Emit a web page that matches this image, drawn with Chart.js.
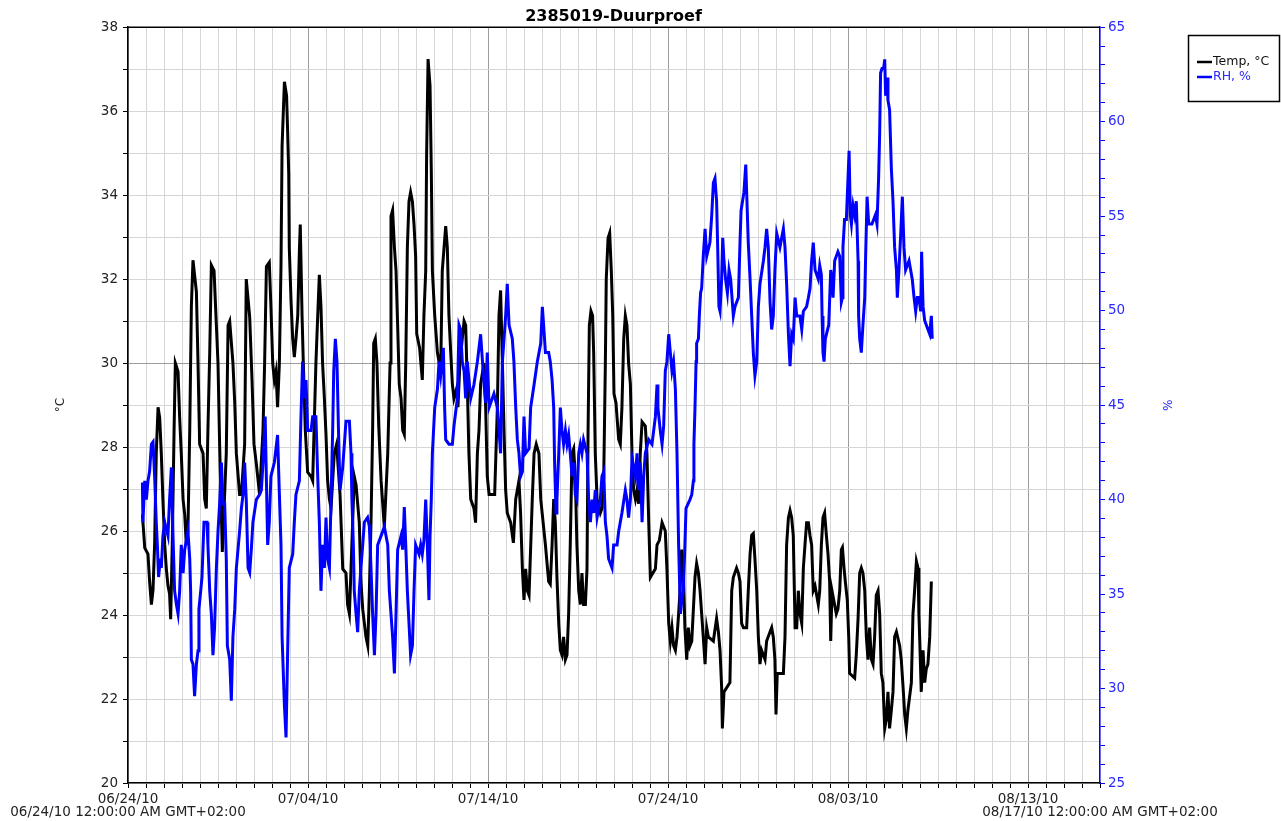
<!DOCTYPE html>
<html>
<head>
<meta charset="utf-8">
<title>2385019-Duurproef</title>
<script src="https://cdn.jsdelivr.net/npm/chart.js@4.4.0/dist/chart.umd.min.js"></script>
<style>
  html, body { margin: 0; padding: 0; background: #fff; overflow: hidden; }
  #wrap { width: 1281px; height: 821px; }
</style>
</head>
<body>
<div id="wrap"><canvas id="c" width="1281" height="821"></canvas></div>
<script>
// ---- data ----
const chartTitle = '2385019-Duurproef';
const startStamp = '06/24/10 12:00:00 AM GMT+02:00';
const endStamp = '08/17/10 12:00:00 AM GMT+02:00';
// date labels, one every 10 days counted from 06/24/10 (day 0)
const dateTickLabels = ['06/24/10', '07/04/10', '07/14/10', '07/24/10', '08/03/10', '08/13/10'];
const seriesNames = ['Temp, °C', 'RH, %'];

// temperature readings: [day since 06/24/10 00:00, °C]
const tempSeries = [
  [0.80,26.4],[0.93,25.6],[1.11,25.45],[1.2,24.8],[1.3,24.25],[1.39,24.6],[1.48,25.7],[1.57,27.85],[1.67,28.95],[1.76,28.7],
  [1.85,27.85],[1.94,26.75],[2.04,25.67],[2.13,25.1],[2.22,24.7],[2.31,24.5],[2.37,23.9],[2.46,25.7],[2.56,28.4],[2.63,30.0],
  [2.78,29.8],[2.87,28.7],[2.96,27.85],[3.06,26.75],[3.15,26.4],[3.24,25.67],[3.33,26.0],[3.43,28.4],[3.52,31.35],[3.61,32.45],
  [3.8,31.7],[3.89,30.0],[3.98,28.07],[4.17,27.85],[4.26,26.76],[4.35,26.54],[4.44,28.4],[4.54,30.25],[4.63,32.33],[4.78,32.2],
  [4.91,30.9],[5.0,30.0],[5.09,28.07],[5.24,25.5],[5.46,27.85],[5.56,30.9],[5.65,31.0],[5.83,30.0],[5.93,29.05],[6.02,27.85],
  [6.2,26.87],[6.3,26.87],[6.48,28.07],[6.57,32.0],[6.76,31.1],[6.89,29.6],[7.0,28.07],[7.13,27.6],[7.31,26.87],[7.5,28.4],
  [7.59,30.0],[7.69,32.3],[7.85,32.4],[7.94,31.35],[8.04,30.0],[8.13,29.6],[8.22,29.8],[8.31,28.95],[8.41,30.0],[8.5,32.33],
  [8.56,35.17],[8.69,36.7],[8.81,36.37],[8.87,35.5],[8.93,34.5],[8.96,32.76],[9.06,31.45],[9.15,30.58],[9.24,30.14],[9.33,30.58],
  [9.43,31.13],[9.52,32.65],[9.57,33.3],[9.67,31.13],[9.74,30.0],[9.85,28.4],[9.98,27.4],[10.17,27.3],[10.26,27.2],[10.44,30.0],
  [10.54,31.13],[10.63,32.1],[10.72,31.35],[10.81,30.0],[10.91,29.16],[11.0,28.3],[11.09,27.2],[11.19,26.76],[11.28,26.54],[11.46,27.85],
  [11.59,28.07],[11.78,26.87],[11.93,25.1],[12.11,25.0],[12.2,24.25],[12.3,24.03],[12.39,25.1],[12.57,27.3],[12.67,27.1],[12.85,26.2],
  [12.94,24.8],[13.04,24.14],[13.22,23.48],[13.32,23.27],[13.41,24.58],[13.5,26.2],[13.59,28.4],[13.65,30.47],[13.74,30.58],[13.83,30.0],
  [13.93,28.5],[14.06,27.2],[14.24,26.1],[14.43,27.85],[14.56,30.0],[14.61,33.5],[14.7,33.64],[14.8,32.76],[14.89,32.2],[14.98,30.9],
  [15.07,29.5],[15.17,29.16],[15.26,28.4],[15.35,28.3],[15.43,30.0],[15.52,32.76],[15.61,33.85],[15.7,34.07],[15.8,33.85],[15.89,33.3],
  [15.98,32.55],[16.04,30.7],[16.2,30.36],[16.35,29.6],[16.44,31.13],[16.54,32.2],[16.59,34.95],[16.67,37.24],[16.78,36.6],[16.85,34.6],
  [16.91,32.2],[17.04,31.13],[17.19,30.25],[17.37,29.8],[17.46,32.2],[17.65,33.26],[17.74,32.76],[17.83,31.13],[17.93,30.25],[18.02,29.5],
  [18.11,29.16],[18.26,29.4],[18.33,28.95],[18.44,30.0],[18.57,30.58],[18.67,31.0],[18.76,30.9],[18.85,29.5],[18.94,27.85],[19.04,26.76],
  [19.22,26.54],[19.31,26.2],[19.41,27.85],[19.5,28.4],[19.59,29.5],[19.78,30.0],[19.87,28.95],[19.96,27.3],[20.06,26.87],[20.37,26.87],
  [20.52,28.95],[20.61,31.13],[20.7,31.73],[20.8,30.0],[20.89,28.4],[20.98,26.98],[21.07,26.43],[21.26,26.2],[21.41,25.72],[21.54,26.76],
  [21.72,27.2],[21.81,26.43],[21.91,25.1],[22.0,24.36],[22.09,25.1],[22.19,24.58],[22.28,24.47],[22.46,26.76],[22.56,27.85],[22.68,28.07],
  [22.83,27.85],[22.93,26.76],[23.19,25.67],[23.37,24.8],[23.46,24.74],[23.56,25.67],[23.65,26.76],[23.74,26.2],[23.83,24.9],[23.93,23.8],
  [24.02,23.16],[24.11,23.05],[24.2,23.48],[24.3,22.94],[24.39,23.05],[24.48,24.03],[24.57,25.67],[24.67,27.85],[24.76,27.96],[24.85,27.3],
  [24.94,25.67],[25.04,24.58],[25.13,24.25],[25.22,25.0],[25.31,24.25],[25.41,24.25],[25.5,25.1],[25.56,28.4],[25.63,30.9],[25.72,31.24],
  [25.81,31.13],[25.87,30.25],[25.96,27.85],[26.06,26.76],[26.24,26.43],[26.33,26.54],[26.43,27.3],[26.52,30.0],[26.57,32.0],[26.67,32.98],
  [26.76,33.1],[26.85,32.2],[26.93,31.13],[27.0,29.27],[27.11,29.05],[27.26,28.18],[27.35,28.07],[27.44,28.94],[27.54,30.58],[27.63,31.13],
  [27.72,30.9],[27.81,30.0],[27.91,29.5],[28.0,27.85],[28.09,26.98],[28.19,26.76],[28.28,26.98],[28.37,26.65],[28.46,27.85],[28.56,28.6],
  [28.74,28.5],[28.83,27.85],[28.93,26.2],[29.02,24.9],[29.3,25.1],[29.39,25.67],[29.52,25.78],[29.67,26.2],[29.85,26.0],[29.94,25.1],
  [30.04,23.8],[30.13,23.37],[30.22,23.7],[30.31,23.27],[30.41,23.16],[30.5,23.48],[30.59,24.03],[30.67,24.58],[30.76,25.56],[30.85,25.1],
  [30.94,23.7],[31.04,22.94],[31.13,23.7],[31.22,23.27],[31.32,23.38],[31.41,24.14],[31.5,24.9],[31.59,25.23],[31.69,25.0],[31.78,24.58],
  [31.87,24.03],[31.96,23.48],[32.06,22.83],[32.15,23.7],[32.24,23.48],[32.52,23.38],[32.7,23.92],[32.8,23.6],[32.89,23.16],[32.98,22.28],
  [33.02,21.3],[33.11,22.17],[33.44,22.39],[33.54,24.58],[33.63,24.9],[33.81,25.12],[33.91,25.0],[34.0,24.8],[34.09,23.8],[34.19,23.7],
  [34.37,23.7],[34.46,24.58],[34.56,25.45],[34.65,25.9],[34.74,25.94],[34.83,25.34],[34.93,24.58],[35.02,23.48],[35.11,22.83],[35.2,23.16],
  [35.39,22.94],[35.48,23.38],[35.67,23.6],[35.76,23.7],[35.85,23.48],[35.94,22.94],[36.0,21.63],[36.07,22.61],[36.41,22.61],[36.5,23.48],
  [36.59,25.67],[36.69,26.32],[36.78,26.49],[36.87,26.32],[36.96,25.89],[37.06,23.7],[37.15,23.7],[37.24,24.58],[37.33,24.03],[37.43,23.8],
  [37.52,25.12],[37.61,25.67],[37.7,26.2],[37.8,26.2],[37.89,25.89],[37.98,25.67],[38.07,24.58],[38.17,24.69],[38.35,24.25],[38.43,24.58],
  [38.52,25.67],[38.61,26.32],[38.7,26.43],[38.8,25.89],[38.89,25.45],[38.98,24.8],[39.04,23.38],[39.11,24.58],[39.35,24.03],[39.44,24.14],
  [39.54,24.58],[39.63,25.56],[39.69,25.61],[39.78,25.12],[39.85,24.8],[39.96,24.36],[40.04,23.48],[40.09,22.61],[40.37,22.5],[40.46,23.05],
  [40.56,23.92],[40.65,25.0],[40.74,25.12],[40.83,25.0],[40.93,24.58],[41.02,23.48],[41.11,22.94],[41.2,23.7],[41.3,22.94],[41.39,22.83],
  [41.48,23.48],[41.57,24.47],[41.67,24.58],[41.76,24.03],[41.85,22.61],[41.94,22.39],[42.04,21.3],[42.13,21.52],[42.22,22.17],[42.31,21.3],
  [42.41,21.74],[42.5,22.17],[42.59,23.48],[42.69,23.6],[42.87,23.27],[42.96,22.94],[43.06,22.28],[43.15,21.63],[43.24,21.3],[43.33,21.74],
  [43.52,22.39],[43.61,24.03],[43.7,24.58],[43.8,25.28],[43.89,25.12],[43.94,24.03],[43.98,23.48],[44.07,22.17],[44.17,23.16],[44.26,22.39],
  [44.35,22.72],[44.44,22.83],[44.54,23.48],[44.63,24.8]
];

// relative humidity readings: [day since 06/24/10 00:00, %]
const rhSeries = [
  [0.80,40.9],[0.83,38.8],[0.93,40.99],[1.02,40.0],[1.11,40.99],[1.2,41.5],[1.3,42.93],[1.39,43.05],[1.48,41.23],[1.57,38.8],
  [1.63,37.6],[1.7,35.9],[1.8,36.87],[1.85,36.38],[1.94,38.08],[2.04,38.8],[2.22,38.08],[2.31,40.0],[2.41,41.7],[2.5,38.08],
  [2.59,35.17],[2.69,34.44],[2.78,33.95],[2.87,35.17],[2.96,37.6],[3.06,36.1],[3.15,37.35],[3.33,38.32],[3.43,36.87],[3.48,35.17],
  [3.52,31.53],[3.61,31.29],[3.7,29.59],[3.8,31.29],[3.89,32.0],[3.94,34.2],[4.04,35.17],[4.11,35.9],[4.22,38.8],[4.39,38.8],
  [4.44,37.6],[4.54,35.17],[4.63,33.95],[4.72,31.77],[4.81,33.23],[4.91,36.38],[5.0,38.32],[5.09,39.78],[5.19,41.96],[5.28,39.78],
  [5.37,39.78],[5.46,36.87],[5.52,32.26],[5.65,31.53],[5.74,29.35],[5.83,32.74],[5.93,34.2],[6.02,36.38],[6.2,38.32],[6.3,39.54],
  [6.39,40.26],[6.48,41.96],[6.57,40.0],[6.67,36.38],[6.76,36.14],[6.85,37.35],[6.94,38.8],[7.13,40.0],[7.31,40.26],[7.41,40.5],
  [7.5,41.96],[7.62,44.39],[7.76,37.6],[7.85,38.8],[7.94,41.23],[8.13,41.96],[8.31,43.42],[8.41,40.26],[8.5,37.6],[8.56,32.74],
  [8.69,29.1],[8.78,27.41],[8.87,32.0],[8.96,36.38],[9.15,37.11],[9.24,38.8],[9.33,40.26],[9.52,40.99],[9.61,44.39],[9.7,47.3],
  [9.8,45.36],[9.89,46.33],[9.98,43.66],[10.17,43.66],[10.26,44.39],[10.44,44.39],[10.54,41.23],[10.63,38.8],[10.72,35.17],[10.81,37.6],
  [10.91,36.38],[11.0,39.05],[11.09,36.87],[11.19,36.38],[11.28,40.0],[11.37,43.66],[11.43,46.81],[11.52,48.51],[11.61,47.3],[11.7,43.42],
  [11.78,40.5],[11.93,41.72],[12.11,44.14],[12.3,44.14],[12.39,42.45],[12.44,40.0],[12.52,37.6],[12.57,35.17],[12.67,33.95],[12.76,32.98],
  [12.85,35.17],[12.94,36.38],[13.04,37.6],[13.13,38.8],[13.31,39.05],[13.41,38.56],[13.5,36.38],[13.59,33.95],[13.69,31.77],[13.78,33.95],
  [13.87,37.6],[14.06,38.08],[14.24,38.56],[14.43,37.6],[14.52,35.17],[14.7,32.74],[14.8,30.8],[14.89,33.95],[14.98,37.35],[15.17,38.08],
  [15.26,37.35],[15.35,39.6],[15.43,37.6],[15.52,35.17],[15.61,33.47],[15.7,31.77],[15.8,32.26],[15.89,35.17],[15.98,37.6],[16.17,37.11],
  [16.26,37.6],[16.35,37.11],[16.44,37.84],[16.54,40.0],[16.63,37.6],[16.72,34.68],[16.78,38.08],[16.85,40.0],[16.91,42.45],[17.04,44.87],
  [17.19,45.84],[17.28,47.3],[17.37,46.57],[17.52,48.03],[17.59,44.87],[17.65,43.17],[17.83,42.93],[18.02,42.93],[18.11,43.9],[18.3,45.36],
  [18.39,49.24],[18.48,49.0],[18.57,47.3],[18.67,46.81],[18.76,45.36],[18.85,47.3],[19.04,45.36],[19.22,46.09],[19.41,47.3],[19.59,48.75],
  [19.78,46.09],[19.87,45.12],[19.96,47.78],[20.06,44.87],[20.33,45.6],[20.52,44.87],[20.61,43.66],[20.7,42.45],[20.8,47.3],[20.89,48.51],
  [20.98,49.72],[21.07,51.42],[21.17,49.24],[21.35,48.51],[21.44,47.3],[21.54,44.87],[21.63,43.17],[21.72,42.45],[21.81,41.23],[21.91,41.48],
  [22.0,44.39],[22.09,42.45],[22.28,42.69],[22.37,44.87],[22.56,46.09],[22.74,47.3],[22.93,48.27],[23.02,50.2],[23.09,49.24],[23.19,47.78],
  [23.37,47.78],[23.46,47.3],[23.56,46.33],[23.65,44.87],[23.7,41.96],[23.78,39.29],[23.83,40.0],[23.93,42.45],[24.02,44.87],[24.11,43.66],
  [24.2,42.93],[24.3,43.66],[24.39,42.93],[24.48,43.42],[24.57,42.45],[24.67,41.23],[24.76,41.96],[24.85,40.26],[24.94,40.0],[25.04,42.45],
  [25.13,42.93],[25.22,42.45],[25.31,43.17],[25.5,42.45],[25.59,40.0],[25.69,38.8],[25.78,40.0],[25.87,39.29],[25.96,40.5],[26.06,39.05],
  [26.24,40.0],[26.33,41.23],[26.43,41.48],[26.52,38.8],[26.61,38.08],[26.7,36.87],[26.89,36.38],[26.98,37.6],[27.17,37.6],[27.26,38.32],
  [27.44,39.29],[27.63,40.5],[27.72,40.0],[27.81,39.05],[27.91,40.0],[28.0,42.2],[28.19,41.23],[28.28,42.45],[28.37,40.5],[28.46,41.96],
  [28.56,38.8],[28.65,41.23],[28.74,42.45],[28.93,43.17],[29.11,42.93],[29.3,44.39],[29.39,46.09],[29.44,44.87],[29.57,43.66],[29.67,42.93],
  [29.76,43.9],[29.85,46.81],[29.94,47.3],[30.04,48.75],[30.13,47.78],[30.22,46.81],[30.31,47.3],[30.41,45.84],[30.5,42.45],[30.59,37.6],
  [30.69,33.95],[30.76,34.6],[30.85,35.17],[30.94,37.6],[31.0,39.54],[31.22,40.0],[31.32,40.26],[31.41,40.99],[31.44,42.93],[31.5,44.87],
  [31.56,47.3],[31.59,48.27],[31.69,48.51],[31.74,49.72],[31.81,50.94],[31.87,51.18],[31.96,52.88],[32.06,54.33],[32.15,52.88],[32.33,53.6],
  [32.43,55.06],[32.52,56.76],[32.61,57.0],[32.7,55.79],[32.76,53.36],[32.83,50.21],[32.89,49.97],[32.98,51.66],[33.04,53.85],[33.11,52.64],
  [33.2,51.66],[33.3,50.94],[33.39,52.15],[33.48,51.66],[33.63,49.72],[33.72,50.21],[33.91,50.69],[34.0,53.6],[34.06,55.3],[34.22,56.27],
  [34.32,57.73],[34.37,56.27],[34.46,53.6],[34.56,51.66],[34.65,49.72],[34.74,47.78],[34.83,46.57],[34.93,47.3],[35.02,50.21],[35.11,51.42],
  [35.3,52.64],[35.39,53.36],[35.48,54.33],[35.57,53.36],[35.67,50.45],[35.76,49.0],[35.85,49.72],[35.94,52.15],[36.04,54.09],[36.22,53.36],
  [36.41,54.33],[36.5,53.36],[36.59,51.42],[36.69,48.75],[36.78,47.06],[36.87,48.75],[36.96,48.51],[37.06,50.69],[37.15,49.72],[37.33,49.72],
  [37.43,49.0],[37.52,49.97],[37.7,50.21],[37.8,50.69],[37.89,51.18],[37.98,52.64],[38.07,53.6],[38.17,52.15],[38.35,51.66],[38.43,52.39],
  [38.52,51.91],[38.56,49.72],[38.61,47.78],[38.67,47.3],[38.74,48.51],[38.93,49.24],[39.04,52.15],[39.11,51.66],[39.17,50.69],[39.26,52.64],
  [39.44,53.12],[39.54,52.88],[39.63,50.45],[39.69,50.69],[39.72,53.36],[39.81,54.82],[39.91,54.82],[40.0,57.0],[40.06,58.46],[40.13,55.06],
  [40.19,54.58],[40.28,55.55],[40.37,55.06],[40.46,55.79],[40.56,52.64],[40.59,49.72],[40.65,48.51],[40.74,47.78],[40.83,49.24],[40.93,50.69],
  [40.98,52.88],[41.06,56.03],[41.15,54.58],[41.33,54.58],[41.52,55.06],[41.61,54.58],[41.7,57.0],[41.76,59.43],[41.81,62.58],[41.89,62.82],
  [41.98,62.82],[42.04,63.3],[42.09,61.37],[42.17,62.34],[42.22,61.13],[42.31,60.64],[42.41,57.49],[42.5,55.79],[42.59,53.36],[42.69,52.15],
  [42.74,50.69],[42.83,52.15],[42.93,54.09],[43.02,56.03],[43.11,53.36],[43.2,52.15],[43.39,52.64],[43.48,52.15],[43.57,51.66],[43.67,50.69],
  [43.76,49.97],[43.85,50.69],[43.94,50.69],[44.04,49.97],[44.09,53.12],[44.17,50.21],[44.26,49.48],[44.35,49.24],[44.54,48.75],[44.63,49.72],
  [44.68,48.51]
];

// ---- styling ----
const FONT = 'DejaVu Sans';
const TEXT_DARK = '#222222';
const BLUE = '#0000ff';
const BLUE_TEXT = '#2a2aff';
const GRID_MINOR = '#d6d6d6';
const GRID_MAJOR = '#9c9c9c';

const toPoints = rows => rows.map(r => ({ x: r[0], y: r[1] }));

// extra drawing: top frame line, start/end stamps under the time axis, boxed legend
const decorations = {
  id: 'decorations',
  afterDraw(chart) {
    const { ctx, chartArea: a } = chart;
    ctx.save();
    // top frame
    ctx.strokeStyle = '#000';
    ctx.lineWidth = 1.5;
    ctx.beginPath();
    ctx.moveTo(a.left, a.top);
    ctx.lineTo(a.right, a.top);
    ctx.stroke();

    // start / end stamps centred on the ends of the time axis
    ctx.font = '13.5px "' + FONT + '"';
    ctx.fillStyle = TEXT_DARK;
    ctx.textBaseline = 'middle';
    ctx.textAlign = 'center';
    ctx.fillText(startStamp, a.left, 812);
    ctx.fillText(endStamp, a.right, 812);

    // legend box
    const bx = 1188.5, by = 35.5, bw = 91, bh = 66;
    ctx.fillStyle = '#fff';
    ctx.fillRect(bx, by, bw, bh);
    ctx.strokeStyle = '#000';
    ctx.lineWidth = 1.5;
    ctx.strokeRect(bx, by, bw, bh);
    const entries = [
      { label: seriesNames[0], line: '#000', text: '#111', y: 62 },
      { label: seriesNames[1], line: BLUE, text: BLUE_TEXT, y: 77 }
    ];
    ctx.font = '12.5px "' + FONT + '"';
    ctx.textAlign = 'left';
    entries.forEach(e => {
      ctx.strokeStyle = e.line;
      ctx.lineWidth = 2.5;
      ctx.beginPath();
      ctx.moveTo(1197, e.y);
      ctx.lineTo(1212, e.y);
      ctx.stroke();
      ctx.fillStyle = e.text;
      ctx.fillText(e.label, 1213, e.y);
    });
    ctx.restore();
  }
};

new Chart(document.getElementById('c'), {
  type: 'line',
  data: {
    datasets: [
      {
        label: seriesNames[0],
        data: toPoints(tempSeries),
        yAxisID: 'y',
        borderColor: '#000',
        backgroundColor: '#000',
        borderWidth: 3,
        pointRadius: 0,
        tension: 0,
        order: 1
      },
      {
        label: seriesNames[1],
        data: toPoints(rhSeries),
        yAxisID: 'y2',
        borderColor: BLUE,
        backgroundColor: BLUE,
        borderWidth: 3,
        pointRadius: 0,
        tension: 0,
        order: 0
      }
    ]
  },
  options: {
    responsive: false,
    animation: false,
    devicePixelRatio: 1,
    layout: { padding: { left: 50, right: 104, top: 0, bottom: 0 } },
    plugins: {
      legend: { display: false },
      tooltip: { enabled: false },
      title: {
        display: true,
        text: chartTitle,
        color: '#000',
        font: { family: FONT, size: 16, weight: 'bold' },
        padding: { top: 7, bottom: 1 }
      }
    },
    scales: {
      x: {
        type: 'linear',
        position: 'bottom',
        min: 0,
        max: 54,
        afterFit: s => { s.height = 38; },
        ticks: {
          stepSize: 1,
          autoSkip: false,
          maxRotation: 0,
          padding: 3,
          color: TEXT_DARK,
          font: { family: FONT, size: 13.5 },
          callback: v => (v % 10 === 0 ? dateTickLabels[v / 10] : '')
        },
        grid: {
          color: c => (c.tick && c.tick.value % 10 === 0 ? GRID_MAJOR : GRID_MINOR),
          lineWidth: 1,
          tickColor: '#000',
          tickLength: 5
        },
        border: { color: '#000', width: 1.5 }
      },
      y: {
        type: 'linear',
        position: 'left',
        min: 20,
        max: 38,
        afterFit: s => { s.width = 78; },
        ticks: {
          stepSize: 1,
          autoSkip: false,
          padding: 5,
          color: TEXT_DARK,
          font: { family: FONT, size: 13.5 },
          callback: v => (v % 2 === 0 ? v : '')
        },
        grid: {
          color: c => (c.tick && c.tick.value === 30 ? GRID_MAJOR : GRID_MINOR),
          lineWidth: 1,
          tickColor: '#000',
          tickLength: 5
        },
        border: { color: '#000', width: 1.5 },
        title: {
          display: true,
          text: '°C',
          color: TEXT_DARK,
          font: { family: FONT, size: 12 },
          padding: { top: 4, bottom: 4 }
        }
      },
      y2: {
        type: 'linear',
        position: 'right',
        min: 25,
        max: 65,
        afterFit: s => { s.width = 77; },
        ticks: {
          stepSize: 1,
          autoSkip: false,
          padding: 3,
          color: BLUE_TEXT,
          font: { family: FONT, size: 13.5 },
          callback: v => (v % 5 === 0 ? v : '')
        },
        grid: {
          drawOnChartArea: false,
          tickColor: BLUE,
          tickLength: 5
        },
        border: { color: BLUE, width: 1.5 },
        title: {
          display: true,
          text: '%',
          color: BLUE_TEXT,
          font: { family: FONT, size: 12 },
          padding: { top: 4, bottom: 4 }
        }
      }
    }
  },
  plugins: [decorations]
});
</script>
</body>
</html>
